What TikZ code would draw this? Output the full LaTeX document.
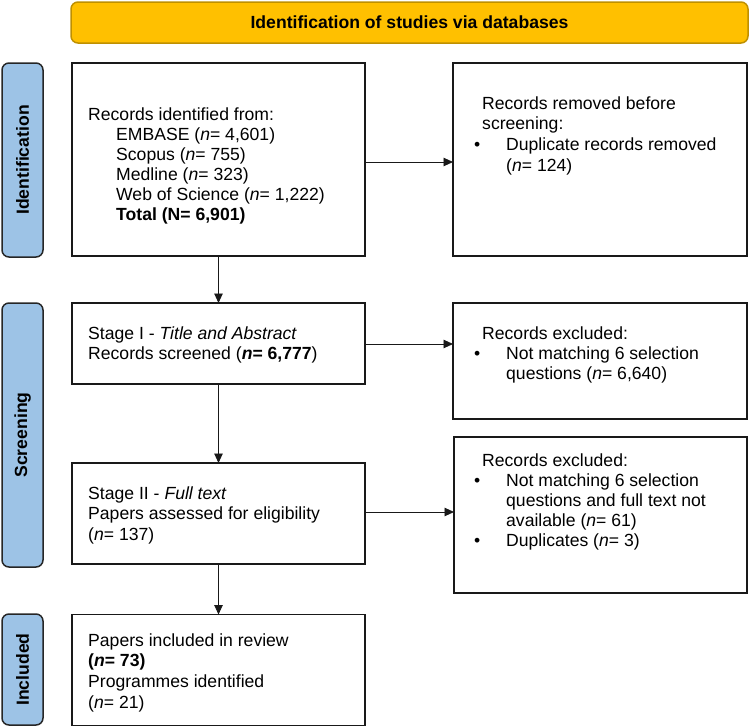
\documentclass[tikz,border=0pt]{standalone}
\usepackage{fontspec}
\setmainfont{Liberation Sans}
\usetikzlibrary{arrows.meta}
\definecolor{bannerfill}{HTML}{FFC000}
\definecolor{bannerdraw}{HTML}{BF9000}
\definecolor{sidefill}{HTML}{9DC3E6}
\newcommand{\bul}{\makebox[32pt][l]{\textbullet}}
\newcommand{\hd}[1]{\multicolumn{2}{@{}l@{}}{\hspace*{8pt}#1}}
\begin{document}
\begin{tikzpicture}[x=1pt,y=-1pt,
  font=\fontsize{17.6}{20}\selectfont,
  box/.style={draw=black!90, line width=1.5pt, fill=white, inner sep=0pt, outer sep=0pt},
  side/.style={draw=black!85, line width=1.5pt, fill=sidefill, rounded corners=7pt, inner sep=0pt,
    font=\fontsize{17.6}{20}\selectfont\bfseries},
  banner/.style={draw=bannerdraw, line width=1.5pt, fill=bannerfill, rounded corners=7pt, inner sep=0pt,
    font=\fontsize{17.6}{20}\selectfont\bfseries},
  txt/.style={inner sep=0pt, anchor=base west},
  wide/.style={font=\fontsize{17.6}{20.7}\selectfont},
  arr/.style={line width=0.9pt, draw=black!90, -{Triangle[length=9.5pt,width=8.5pt]}}
]
\useasboundingbox (0,0) rectangle (750,728);

% banner
\node[banner, minimum width=677pt, minimum height=41pt] (ban) at (409.5,22.5) {Identification of studies via databases};

% side labels
\node[side, rotate=90, minimum width=194pt, minimum height=41pt] (sid) at (22.5,160) {Identification};
\node[side, rotate=90, minimum width=264pt, minimum height=41pt] (sscr) at (22.5,435) {Screening};
\node[side, rotate=90, minimum width=111pt, minimum height=41pt] (sinc) at (22.5,669.5) {Included};

% left boxes
\node[box, minimum width=293pt, minimum height=193pt] (b1) at (218.5,159.5) {};
\node[box, minimum width=293pt, minimum height=81pt] (b2) at (218.5,343.5) {};
\node[box, minimum width=293pt, minimum height=101pt] (b3) at (218.5,513.5) {};
\node[box, minimum width=293pt, minimum height=111pt] (b4) at (218.5,670) {};

% right boxes
\node[box, minimum width=294pt, minimum height=193pt] (r1) at (600,159.5) {};
\node[box, minimum width=294pt, minimum height=116pt] (r2) at (600,361) {};
\node[box, minimum width=293pt, minimum height=156pt] (r3) at (600.5,515) {};

% texts
\node[txt] (t1) at (88,120) {\begin{tabular}[t]{@{}l@{}}
Records identified from:\\
\hspace*{28pt}EMBASE (\textit{n}= 4,601)\\
\hspace*{28pt}Scopus (\textit{n}= 755)\\
\hspace*{28pt}Medline (\textit{n}= 323)\\
\hspace*{28pt}Web of Science (\textit{n}= 1,222)\\
\hspace*{28pt}\textbf{Total (N= 6,901)}
\end{tabular}};

\node[txt] (t2) at (88,339) {\begin{tabular}[t]{@{}l@{}}
Stage I - \textit{Title and Abstract}\\
Records screened (\textbf{\textit{n}= 6,777})
\end{tabular}};

\node[txt, wide] (t3) at (88,499) {\begin{tabular}[t]{@{}l@{}}
Stage II - \textit{Full text}\\
Papers assessed for eligibility\\
(\textit{n}= 137)
\end{tabular}};

\node[txt, wide] (t4) at (88,646) {\begin{tabular}[t]{@{}l@{}}
Papers included in review\\
\textbf{(\textit{n}= 73)}\\
Programmes identified\\
(\textit{n}= 21)
\end{tabular}};

\node[txt, wide] (u1) at (474,109) {\begin{tabular}[t]{@{}l@{}l@{}}
\hd{Records removed before}\\
\hd{screening:}\\
\bul & Duplicate records removed\\
 & (\textit{n}= 124)
\end{tabular}};

\node[txt] (u2) at (474,339) {\begin{tabular}[t]{@{}l@{}l@{}}
\hd{Records excluded:}\\
\bul & Not matching 6 selection\\
 & questions (\textit{n}= 6,640)
\end{tabular}};

\node[txt] (u3) at (474,466) {\begin{tabular}[t]{@{}l@{}l@{}}
\hd{Records excluded:}\\
\bul & Not matching 6 selection\\
 & questions and full text not\\
 & available (\textit{n}= 61)\\
\bul & Duplicates (\textit{n}= 3)
\end{tabular}};

% connectors
\draw[arr] (b1.south) -- (b2.north);
\draw[arr] (b2.south) -- (b3.north);
\draw[arr] (b3.south) -- (b4.north);
\draw[arr] ([yshift=-2.5pt]b1.east) -- ([yshift=-2.5pt]b1.east -| r1.west);
\draw[arr] ([yshift=-0.5pt]b2.east) -- ([yshift=-0.5pt]b2.east -| r2.west);
\draw[arr] ([yshift=1.5pt]b3.east) -- ([yshift=1.5pt]b3.east -| r3.west);
\end{tikzpicture}
\end{document}
